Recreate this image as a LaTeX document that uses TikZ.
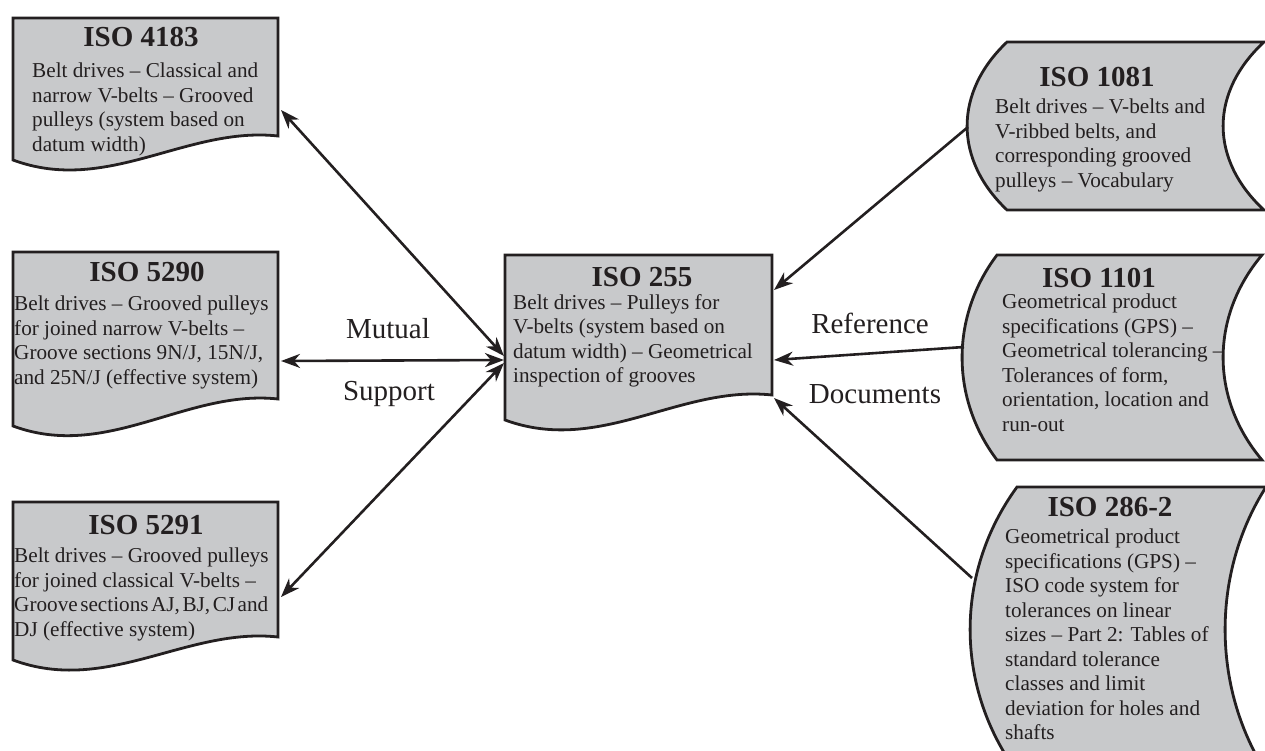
\documentclass[tikz,border=0pt]{standalone}
\usepackage{fontspec}
\setmainfont{Liberation Serif}
\usetikzlibrary{arrows.meta}
\definecolor{boxfill}{RGB}{200,201,203}
\definecolor{ink}{RGB}{35,31,32}
% L T R BL BR
\newcommand\mydocbox[5]{%
  \path[shapeline] (#1,#2) -- (#3,#2) -- (#3,#5)
    .. controls ({#3-0.345*(#3-#1)},{#5-10}) and ({#1+0.356*(#3-#1)},{#4+35}) .. (#1,#4) -- cycle;}
% xl T xr B bulgeLeft bulgeRight
\newcommand\mystorebox[6]{%
  \path[shapeline] (#1,#2) -- (#3,#2)
    .. controls ({#3-1.33*#6},{#2+0.3*(#4-#2)}) and ({#3-1.33*#6},{#4-0.3*(#4-#2)}) .. (#3,#4)
    -- (#1,#4)
    .. controls ({#1-1.33*#5},{#4-0.3*(#4-#2)}) and ({#1-1.33*#5},{#2+0.3*(#4-#2)}) .. (#1,#2) -- cycle;}
\begin{document}
\begin{tikzpicture}[x=1pt,y=-1pt,
  shapeline/.style={draw=ink, line width=2.8pt, fill=boxfill, line join=miter},
  title/.style={font=\fontsize{29}{32}\selectfont\bfseries, text=ink, inner sep=0pt},
  body/.style={font=\fontsize{21.2}{24.5}\selectfont, align=left, anchor=north west, inner sep=0pt, text=ink},
  lbl/.style={font=\fontsize{29}{32}\selectfont, anchor=base, inner sep=0pt, text=ink},
  tip/.tip={Stealth[length=19pt,width=14pt,inset=6pt]},
  conn/.style={draw=ink, line width=2.6pt, -tip},
  biconn/.style={draw=ink, line width=2.6pt, tip-tip}]
\useasboundingbox (0,0) rectangle (1265,751);

% document shapes
\mydocbox{13}{18}{278}{160}{136}
\mydocbox{13}{252}{278}{426}{399}
\mydocbox{13}{502}{278}{660}{637}
\mydocbox{505}{255}{772}{420}{395}

% stored-data shapes
\mystorebox{1007}{42}{1264}{210}{40}{41}
\mystorebox{997}{255}{1262}{460}{35}{39}
\mystorebox{1017}{487}{1266}{772}{47}{41}

% texts
\node[title] (t4183) at (141,37) {ISO 4183};
\node[body] (b4183) at (32,63) {Belt drives – Classical and\\narrow V-belts – Grooved\\pulleys (system based on\\datum width)};

\node[title] (t5290) at (147,272) {ISO 5290};
\node[body] (b5290) at (14,296) {Belt drives – Grooved pulleys\\for joined narrow V-belts –\\Groove sections 9N/J, 15N/J,\\and 25N/J (effective system)};

\node[title] (t5291) at (146,525) {ISO 5291};
\node[body] (b5291) at (14,548) {Belt drives – Grooved pulleys\\for joined classical V-belts –\\{\spaceskip=0.12em\relax Groove sections AJ, BJ, CJ and}\\DJ (effective system)};

\node[title] (t255) at (642,277) {ISO 255};
\node[body] (b255) at (513,294) {Belt drives – Pulleys for\\V-belts (system based on\\datum width) – Geometrical\\inspection of grooves};

\node[title] (t1081) at (1097,77) {ISO 1081};
\node[body] (b1081) at (995,99) {Belt drives – V-belts and\\V-ribbed belts, and\\corresponding grooved\\pulleys – Vocabulary};

\node[title] (t1101) at (1099,278) {ISO 1101};
\node[body] (b1101) at (1002,294) {Geometrical product\\specifications (GPS) –\\Geometrical tolerancing –\\Tolerances of form,\\orientation, location and\\run-out};

\node[title] (t2862) at (1110,507) {ISO 286-2};
\node[body] (b2862) at (1005,529) {Geometrical product\\specifications (GPS) –\\ISO code system for\\tolerances on linear\\sizes – Part 2: Tables of\\standard tolerance\\classes and limit\\deviation for holes and\\shafts};

\node[lbl] (lmutual) at (388,338) {Mutual};
\node[lbl] (lsupport) at (389,400) {Support};
\node[lbl] (lref) at (870,333) {Reference};
\node[lbl] (ldocs) at (875,403) {Documents};

% connector end points
\coordinate (p4183) at (281,110);
\coordinate (p5290) at (281,361);
\coordinate (p5291) at (281,597);
\coordinate (q1) at (504,356);
\coordinate (q2) at (504,360);
\coordinate (q3) at (504,363);
\coordinate (p1081) at (968,127);
\coordinate (p1101) at (964,347);
\coordinate (p2862) at (972,578);
\coordinate (r1) at (774,290);
\coordinate (r2) at (774,360);
\coordinate (r3) at (774,398);

\draw[biconn] (p4183) -- (q1);
\draw[biconn] (p5290) -- (q2);
\draw[biconn] (p5291) -- (q3);
\draw[conn] (p1081) -- (r1);
\draw[conn] (p1101) -- (r2);
\draw[conn] (p2862) -- (r3);
\end{tikzpicture}
\end{document}
